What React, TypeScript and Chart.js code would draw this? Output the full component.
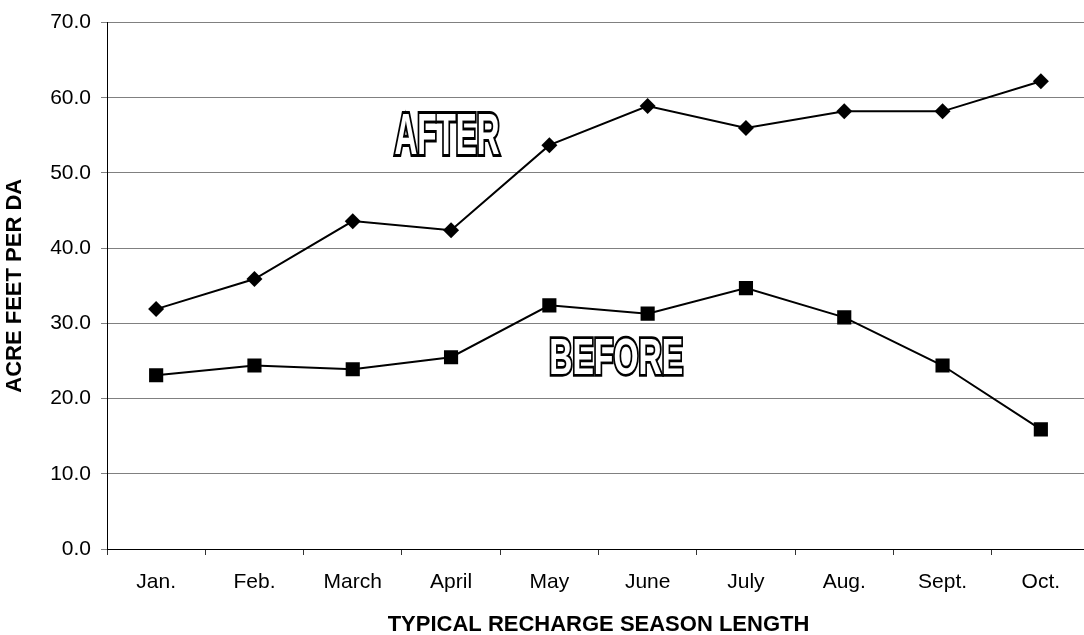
import React, { useEffect, useRef } from "react";
import { Chart, registerables } from "chart.js";

Chart.register(...registerables);

const categories = ["Jan.", "Feb.", "March", "April", "May", "June", "July", "Aug.", "Sept.", "Oct."];
const afterValues = [31.9, 35.9, 43.6, 42.4, 53.7, 58.9, 56.0, 58.2, 58.2, 62.2];
const beforeValues = [23.1, 24.4, 23.9, 25.5, 32.4, 31.3, 34.7, 30.8, 24.4, 15.9];
const yTicks = [0, 10, 20, 30, 40, 50, 60, 70];

const FONT = "'Liberation Sans', Arial, sans-serif";

const outlinedLabels = {
  id: "outlinedLabels",
  afterDatasetsDraw(chart: any) {
    const { ctx, scales } = chart;
    const items = [
      { text: "AFTER", xi: 2.96, yv: 55.3, w: 105, h: 41 },
      { text: "BEFORE", xi: 4.68, yv: 25.6, w: 134, h: 36 },
    ];
    items.forEach((it) => {
      const cx = scales.x.getPixelForValue(it.xi);
      const cy = scales.y.getPixelForValue(it.yv);
      ctx.save();
      ctx.font = `bold 100px ${FONT}`;
      const m = ctx.measureText(it.text);
      const tw = m.width;
      const capH = 72;
      const sx = it.w / tw;
      const sy = it.h / capH;
      ctx.translate(cx, cy);
      ctx.scale(sx, sy);
      ctx.textAlign = "center";
      ctx.textBaseline = "alphabetic";
      ctx.strokeStyle = "#000000";
      ctx.lineJoin = "miter";
      ctx.lineWidth = 3.4 / Math.min(sx, sy);
      ctx.strokeText(it.text, 0, capH / 2);
      ctx.fillStyle = "#ffffff";
      ctx.fillText(it.text, 0, capH / 2);
      ctx.lineWidth = 1.0 / Math.min(sx, sy);
      ctx.restore();
    });
  },
};

export default function App() {
  const ref = useRef<HTMLCanvasElement>(null);
  useEffect(() => {
    const canvas = ref.current!;
    const chart = new Chart(canvas, {
      type: "line",
      data: {
        labels: categories,
        datasets: [
          {
            label: "AFTER",
            data: afterValues,
            borderColor: "#000",
            backgroundColor: "#000",
            borderWidth: 2,
            pointStyle: "rectRot",
            pointRadius: 8,
            pointBorderWidth: 0,
            tension: 0,
          },
          {
            label: "BEFORE",
            data: beforeValues,
            borderColor: "#000",
            backgroundColor: "#000",
            borderWidth: 2,
            pointStyle: "rect",
            pointRadius: 10,
            pointBorderWidth: 0,
            tension: 0,
          },
        ],
      },
      options: {
        responsive: false,
        animation: false,
        layout: { padding: { top: 21, right: 9, left: 0, bottom: 0 } },
        plugins: { legend: { display: false }, tooltip: { enabled: false } },
        scales: {
          x: {
            type: "category",
            offset: true,
            grid: {
              offset: true,
              drawOnChartArea: false,
              drawTicks: true,
              tickLength: 6,
              color: "#333",
            },
            border: { color: "#000", width: 1 },
            ticks: {
              color: "#000",
              font: { family: FONT, size: 21 },
              padding: 15,
              maxRotation: 0,
              autoSkip: false,
            },
            title: {
              display: true,
              text: "TYPICAL RECHARGE SEASON LENGTH",
              color: "#000",
              font: { family: FONT, size: 22, weight: "bold", lineHeight: 1 },
              padding: { top: 0, bottom: -1 },
            },
            afterFit: (s: any) => {
              s.height = 86;
            },
          },
          y: {
            min: 0,
            max: 70,
            afterBuildTicks: (s: any) => {
              s.ticks = yTicks.map((v) => ({ value: v }));
            },
            grid: {
              color: "#808080",
              lineWidth: 1,
              tickLength: 6,
            },
            border: { color: "#000", width: 1 },
            ticks: {
              color: "#000",
              font: { family: FONT, size: 21 },
              padding: 10,
              callback: (v: any) => Number(v).toFixed(1),
            },
            title: {
              display: true,
              text: "ACRE FEET PER DA",
              color: "#000",
              font: { family: FONT, size: 22, weight: "bold", lineHeight: 1 },
              padding: { top: 4, bottom: 0 },
            },
            afterFit: (s: any) => {
              s.width = 107;
            },
          },
        },
      },
      plugins: [outlinedLabels],
    } as any);
    return () => chart.destroy();
  }, []);
  return (
    <div style={{ position: "fixed", left: 0, top: 0, width: 1084, height: 635, overflow: "hidden", background: "#fff" }}>
      <canvas ref={ref} width={1100} height={635} style={{ display: "block" }} />
    </div>
  );
}
